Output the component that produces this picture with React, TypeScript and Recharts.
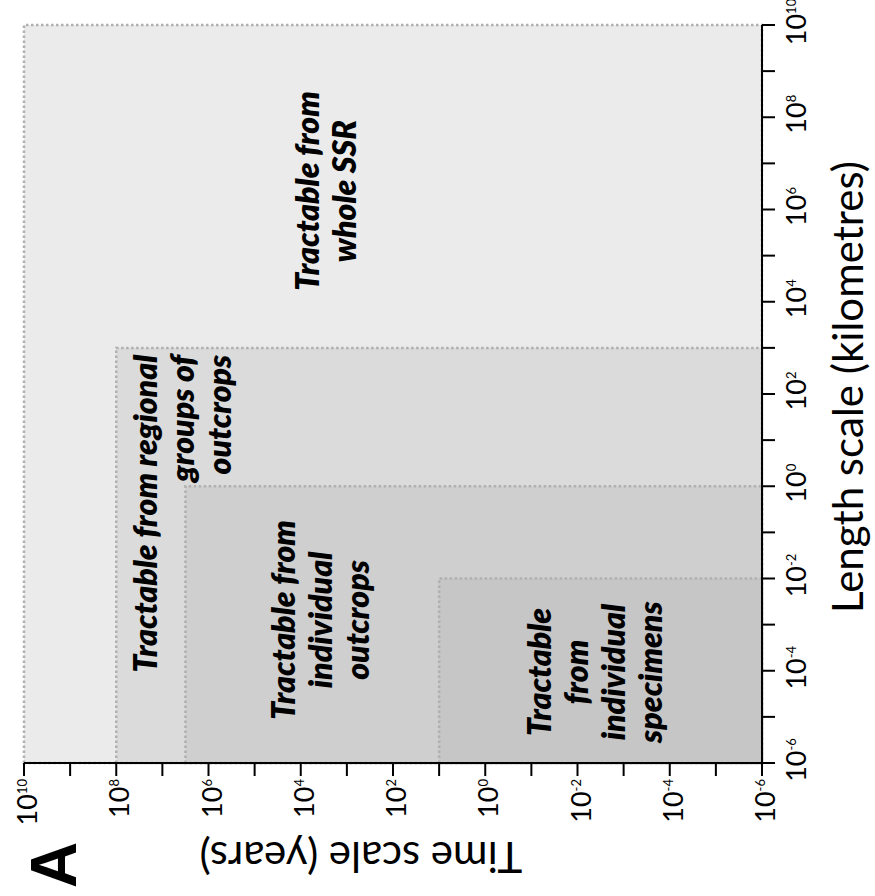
import React from "react";
import { ScatterChart, XAxis, YAxis, ReferenceArea, ReferenceDot } from "recharts";

// Both axes run over whole decades, 1e-6 .. 1e10
const exponents = [-6, -5, -4, -3, -2, -1, 0, 1, 2, 3, 4, 5, 6, 7, 8, 9, 10];
const tickValues = exponents.map((e) => 10 ** e);

// Tractable regions: each spans from the axis minimum up to these bounds
const regionKeys = ["ssr", "regional", "outcrop", "specimen"];
const regionMaxLength = [1e10, 1e3, 1e0, 1e-2]; // kilometres
const regionMaxTime = [1e10, 1e8, 10 ** 6.5, 1e1]; // years
const regionText = [
  ["Tractable from", "whole SSR"],
  ["Tractable from regional", "groups of", "outcrops"],
  ["Tractable from", "individual", "outcrops"],
  ["Tractable", "from", "individual", "specimens"],
];

// Where each region's caption sits (in axis units), and how it is aligned
const captionSpots = [
  { length: 10 ** 6.4, time: 10 ** 3.44, anchor: "middle" },
  { length: 10 ** 2.85, time: 10 ** 6.55, anchor: "end" },
  { length: 10 ** -2.9, time: 10 ** 3.56, anchor: "middle" },
  { length: 10 ** -4.03, time: 10 ** -2.4, anchor: "middle" },
];
const regionFills = ["#ebebeb", "#dbdbdb", "#cfcfcf", "#c6c6c6"];

const FONT = "Lato, 'Open Sans', sans-serif";
const W = 896;
const H = 875;

function powerOf(v: number) {
  return Math.round(Math.log10(v));
}

function LengthTick({ x, y, payload }: any) {
  const e = powerOf(payload.value);
  if (e % 2 !== 0) return null;
  return (
    <text x={x + 3} y={y + 29} textAnchor="middle" fontFamily={FONT} fontSize={27} fill="#000">
      10
      <tspan dy={-10} fontSize={13}>
        {e}
      </tspan>
    </text>
  );
}

function TimeTick({ x, y, payload }: any) {
  const e = powerOf(payload.value);
  if (e % 2 !== 0) return null;
  return (
    <text x={x - 1} y={y + 13} textAnchor="end" fontFamily={FONT} fontSize={27} fill="#000">
      10
      <tspan dy={-10} fontSize={13}>
        {e}
      </tspan>
    </text>
  );
}

function Caption({ cx, cy, lines, anchor }: any) {
  const gap = 37;
  const first = cy + 11 - ((lines.length - 1) * gap) / 2;
  return (
    <text
      x={cx}
      textAnchor={anchor}
      fontFamily={FONT}
      fontSize={32}
      fontWeight={800}
      fontStyle="italic"
      fill="#000"
    >
      {lines.map((l: string, i: number) => (
        <tspan key={i} x={cx} y={first + i * gap}>
          {l}
        </tspan>
      ))}
    </text>
  );
}

function ScaleChart() {
  return (
    <ScatterChart width={W} height={H} margin={{ top: 24, right: 25, left: 0, bottom: 0 }}>
      <XAxis
        dataKey="length"
        type="number"
        scale="log"
        domain={[1e-6, 1e10]}
        allowDataOverflow
        ticks={tickValues}
        interval={0}
        height={113}
        tickSize={13}
        axisLine={{ stroke: "#000", strokeWidth: 2 }}
        tickLine={{ stroke: "#000", strokeWidth: 2 }}
        tick={<LengthTick />}
      />
      <YAxis
        dataKey="time"
        type="number"
        scale="log"
        domain={[1e-6, 1e10]}
        allowDataOverflow
        ticks={tickValues}
        interval={0}
        width={133}
        tickSize={13}
        axisLine={{ stroke: "#000", strokeWidth: 2 }}
        tickLine={{ stroke: "#000", strokeWidth: 2 }}
        tick={<TimeTick />}
      />
      {regionKeys.map((k, i) => (
        <ReferenceArea
          key={k}
          x1={1e-6}
          x2={regionMaxLength[i]}
          y1={1e-6}
          y2={regionMaxTime[i]}
          fill={regionFills[i]}
          fillOpacity={1}
          stroke="#b0b0b0"
          strokeWidth={2.5}
          strokeDasharray="2.5 2.5"
        />
      ))}
      {regionKeys.map((k, i) => (
        <ReferenceDot
          key={k + "-caption"}
          x={captionSpots[i].length}
          y={captionSpots[i].time}
          r={0}
          shape={(p: any) => (
            <Caption cx={p.cx} cy={p.cy} lines={regionText[i]} anchor={captionSpots[i].anchor} />
          )}
        />
      ))}
    </ScatterChart>
  );
}

export default function App() {
  return (
    <div style={{ position: "absolute", left: 0, top: 0, width: H, height: W, background: "#fff", overflow: "hidden" }}>
      <div
        style={{
          position: "absolute",
          left: 0,
          top: 0,
          width: W,
          height: H,
          transformOrigin: "0 0",
          transform: `translate(0px, ${W}px) rotate(-90deg)`,
        }}
      >
        <ScaleChart />
        <svg width={W} height={H} style={{ position: "absolute", left: 0, top: 0, pointerEvents: "none" }}>
          <text x={8} y={76} fontFamily="'Liberation Sans', Arial, sans-serif" fontWeight={700} fontSize={64} fill="#000">
            A
          </text>
          <text
            transform="translate(54, 361) rotate(-90)"
            textAnchor="middle"
            fontFamily={FONT}
            fontSize={42}
            fill="#000"
          >
            Time scale (years)
          </text>
          <text x={509} y={863} textAnchor="middle" fontFamily={FONT} fontSize={42} fill="#000">
            Length scale (kilometres)
          </text>
        </svg>
      </div>
    </div>
  );
}
